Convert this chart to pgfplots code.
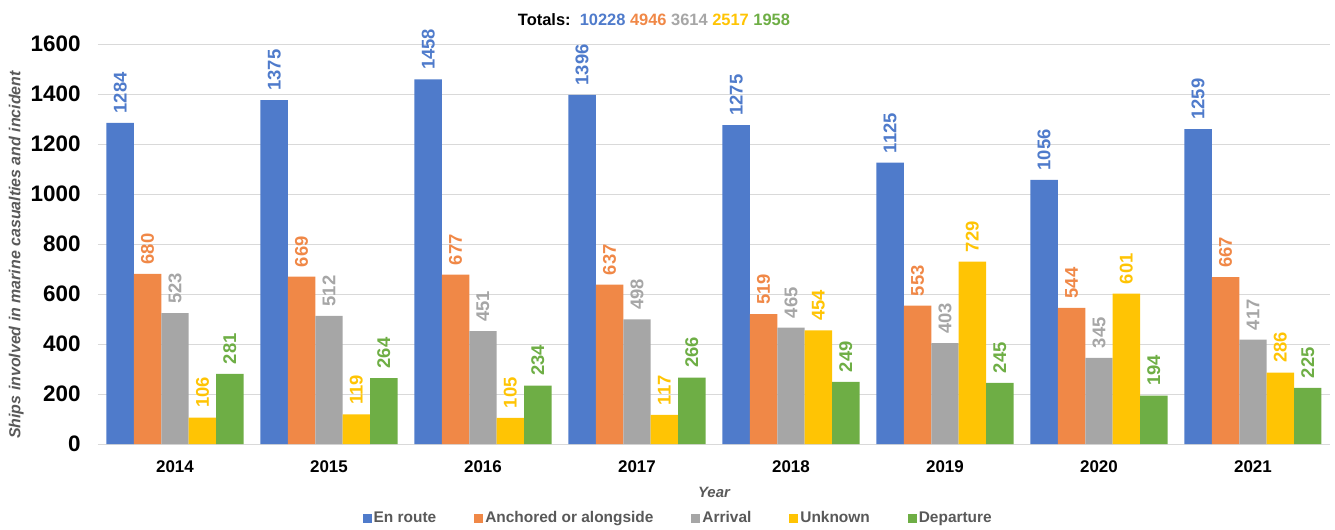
\documentclass[border=0pt]{standalone}
\usepackage{pgfplots}
\pgfplotsset{compat=1.18}
\usepackage{fontspec}
\setmainfont{Liberation Sans}
\definecolor{cA}{HTML}{4F7BCB}
\definecolor{cB}{HTML}{F08847}
\definecolor{cC}{HTML}{A6A6A6}
\definecolor{cD}{HTML}{FFC404}
\definecolor{cE}{HTML}{6EAE45}
\definecolor{gridc}{HTML}{D9D9D9}
\definecolor{labc}{HTML}{595959}
\begin{document}
\begin{tikzpicture}
\begin{axis}[
  scale only axis, width=1232bp, height=400bp,
  at={(0,0)}, anchor=south west,
  ybar=0pt, bar width=0.178,
  xmin=-0.5, xmax=7.5, ymin=0, ymax=1600,
  xtick=data, xticklabels={2014,2015,2016,2017,2018,2019,2020,2021},
  ytick={0,200,...,1600},
  /pgf/number format/1000 sep={},
  /pgf/number format/assume math mode=true,
  yticklabel style={font=\fontsize{22.5}{22.5}\selectfont\bfseries, xshift=-14bp},
  xticklabel style={font=\fontsize{17}{17}\selectfont\bfseries, yshift=-13bp},
  major tick length=0pt,
  ymajorgrids, grid style={gridc, line width=0.8pt},
  axis y line*=left, axis x line*=bottom,
  y axis line style={draw=none},
  x axis line style={gridc, line width=1pt, -},
  ylabel={Ships involved in marine casualties and incident},
  ylabel style={font=\fontsize{16}{16}\selectfont\bfseries\itshape, color=labc, at={(ticklabel cs:0.4725)}},
  xlabel={Year},
  xlabel style={font=\fontsize{15}{15}\selectfont\bfseries\itshape, color=labc, yshift=-8bp},
  nodes near coords,
  every node near coord/.append style={rotate=90, anchor=west, font=\fontsize{18.5}{18.5}\selectfont\bfseries, xshift=6bp},
  legend columns=5,
  legend style={at={(0.471,-74bp)}, anchor=center, draw=none, font=\fontsize{15.5}{15.5}\selectfont\bfseries, text=labc,
    /tikz/every even column/.append style={column sep=36bp}},
  legend image code/.code={\fill[#1] (0bp,-4.5bp) rectangle (9bp,4.5bp);},
]
\addplot[fill=cA, draw=none, nodes near coords style={color=cA}] coordinates {(0,1284)(1,1375)(2,1458)(3,1396)(4,1275)(5,1125)(6,1056)(7,1259)};
\addplot[fill=cB, draw=none, nodes near coords style={color=cB}] coordinates {(0,680)(1,669)(2,677)(3,637)(4,519)(5,553)(6,544)(7,667)};
\addplot[fill=cC, draw=none, nodes near coords style={color=cC}] coordinates {(0,523)(1,512)(2,451)(3,498)(4,465)(5,403)(6,345)(7,417)};
\addplot[fill=cD, draw=none, nodes near coords style={color=cD}] coordinates {(0,106)(1,119)(2,105)(3,117)(4,454)(5,729)(6,601)(7,286)};
\addplot[fill=cE, draw=none, nodes near coords style={color=cE}] coordinates {(0,281)(1,264)(2,234)(3,266)(4,249)(5,245)(6,194)(7,225)};
\legend{En route, Anchored or alongside, Arrival, Unknown, Departure}
\end{axis}
\node[font=\fontsize{16.5}{16.5}\selectfont\bfseries, anchor=center] at (556bp,424bp)
  {Totals:\ \ \textcolor{cA}{10228} \textcolor{cB}{4946} \textcolor{cC}{3614} \textcolor{cD}{2517} \textcolor{cE}{1958}};
\pgfresetboundingbox
\path[use as bounding box] (-98bp,-86bp) rectangle (1237bp,444bp);
\end{tikzpicture}
\end{document}
